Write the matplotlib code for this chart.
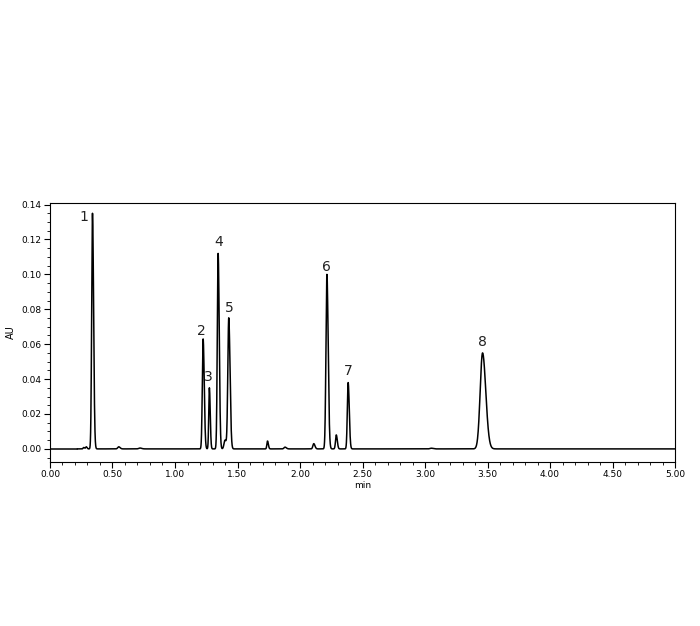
import matplotlib.pyplot as plt
import numpy as np
from matplotlib.ticker import MultipleLocator

# peak table: retention time (min), height (AU), sigma (min)
rt = [0.27, 0.29, 0.34, 0.55, 0.72, 1.225, 1.275, 1.345, 1.40, 1.43, 1.74, 1.88, 2.11, 2.215, 2.29, 2.385, 3.05, 3.46]
height = [0.0008, 0.0012, 0.135, 0.0012, 0.0005, 0.063, 0.035, 0.112, 0.005, 0.075, 0.0045, 0.001, 0.003, 0.100, 0.008, 0.038, 0.0004, 0.055]
sigma = [0.005, 0.005, 0.0065, 0.008, 0.01, 0.0065, 0.005, 0.0065, 0.008, 0.0075, 0.005, 0.008, 0.007, 0.0075, 0.006, 0.0065, 0.01, 0.019]

# peak labels: text, x, y
lab = ['1', '2', '3', '4', '5', '6', '7', '8']
lab_x = [0.275, 1.21, 1.27, 1.35, 1.435, 2.21, 2.385, 3.46]
lab_y = [0.129, 0.0635, 0.037, 0.1145, 0.0765, 0.1005, 0.0405, 0.0575]

t = np.arange(0.22, 5.0, 0.001)
y = np.zeros_like(t)
for r, h, s in zip(rt, height, sigma):
    # slightly wider on the trailing side
    sw = np.where(t > r, s * 1.35, s)
    y += h * np.exp(-(t - r) ** 2 / (2 * sw ** 2))

fig = plt.figure(figsize=(7, 6.26), dpi=100)
ax = fig.add_axes([0.0714, 0.262, 0.893, 0.414])
ax.plot(t, y, color='black', lw=1.1)
ax.plot([0, 0.22], [0, 0], color='black', lw=1.1)

for s, xx, yy in zip(lab, lab_x, lab_y):
    ax.text(xx, yy, s, ha='center', va='bottom', fontsize=10, color='#222222')

ax.set_xlim(0, 5)
ax.set_ylim(-0.0075, 0.141)
ax.xaxis.set_major_locator(MultipleLocator(0.5))
ax.xaxis.set_minor_locator(MultipleLocator(0.1))
ax.yaxis.set_major_locator(MultipleLocator(0.02))
ax.yaxis.set_minor_locator(MultipleLocator(0.005))
ax.xaxis.set_major_formatter(plt.FuncFormatter(lambda v, p: '%.2f' % v))
ax.yaxis.set_major_formatter(plt.FuncFormatter(lambda v, p: '%.2f' % v))
ax.tick_params(which='major', length=4, width=0.8, labelsize=6.5, pad=2)
ax.tick_params(which='minor', length=2.5, width=0.6)
for sp in ax.spines.values():
    sp.set_linewidth(0.8)
ax.set_xlabel('min', fontsize=6.5, labelpad=1)
ax.set_ylabel('AU', fontsize=7, labelpad=4)

fig.savefig('out.png', dpi=100)
